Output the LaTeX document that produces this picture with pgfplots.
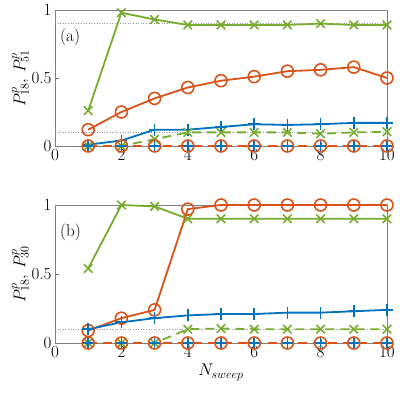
\documentclass[border=0pt]{standalone}
\usepackage{fix-cm}
\usepackage{pgfplots}
\pgfplotsset{compat=1.18}
\definecolor{mblue}{rgb}{0,0.447,0.741}
\definecolor{morange}{rgb}{0.851,0.325,0.098}
\definecolor{mgreen}{rgb}{0.466,0.674,0.188}
\pgfplotsset{
  panel/.style={
    scale only axis, width=332pt,
    xmin=0, xmax=10, ymin=0, ymax=1,
    xtick={0,2,...,10}, ytick={0,0.5,1},
    yticklabels={0,0.5,1},
    axis line style={black!50, line width=0.6pt},
    tick style={black!60},
    tick align=inside, major tick length=4pt,
    xtick pos=bottom, ytick pos=left,
    tick label style={font=\fontsize{17}{19}\selectfont},
    label style={font=\fontsize{17}{19}\selectfont},
    clip=false,
  },
  sol/.style={line width=1.8pt, mark size=6pt, mark options={solid, line width=1.6pt}},
  das/.style={line width=1.8pt, dash pattern=on 9pt off 6pt, mark size=6pt, mark options={solid, line width=1.6pt}},
  ref/.style={black!40, dotted, line width=0.6pt, forget plot},
}
\begin{document}
\begin{tikzpicture}
\begin{axis}[panel, height=136pt, at={(0pt,0pt)},
  ylabel={$P^p_{18},\,P^p_{51}$}, ylabel style={yshift=-4pt}]
\addplot[ref] coordinates {(0,0.9) (10,0.9)};
\addplot[ref] coordinates {(0,0.1) (10,0.1)};
\addplot[sol, mgreen, mark=x] coordinates {(1,0.26) (2,0.98) (3,0.93) (4,0.89) (5,0.89) (6,0.89) (7,0.89) (8,0.90) (9,0.89) (10,0.89)};
\addplot[sol, morange, mark=o] coordinates {(1,0.12) (2,0.25) (3,0.35) (4,0.43) (5,0.48) (6,0.51) (7,0.55) (8,0.56) (9,0.58) (10,0.50)};
\addplot[sol, mblue, mark=+] coordinates {(1,0.01) (2,0.04) (3,0.12) (4,0.12) (5,0.14) (6,0.16) (7,0.155) (8,0.16) (9,0.17) (10,0.17)};
\addplot[das, mgreen, mark=x] coordinates {(1,0) (2,0) (3,0.05) (4,0.10) (5,0.10) (6,0.10) (7,0.10) (8,0.09) (9,0.10) (10,0.105)};
\addplot[das, mblue, mark=+] coordinates {(1,0) (2,0) (3,0) (4,0) (5,0) (6,0) (7,0) (8,0) (9,0) (10,0)};
\addplot[das, morange, mark=o] coordinates {(1,0) (2,0) (3,0) (4,0) (5,0) (6,0) (7,0) (8,0) (9,0) (10,0)};
\node[anchor=west, font=\fontsize{17}{19}\selectfont] at (axis cs:0.05,0.8) {(a)};
\end{axis}
\begin{axis}[panel, height=138pt, at={(0pt,-197pt)},
  ylabel={$P^p_{18},\,P^p_{30}$}, ylabel style={yshift=-4pt},
  xlabel={$N_{sweep}$}]
\addplot[ref] coordinates {(0,0.1) (10,0.1)};
\addplot[sol, mgreen, mark=x] coordinates {(1,0.54) (2,1.0) (3,0.99) (4,0.90) (5,0.90) (6,0.90) (7,0.90) (8,0.90) (9,0.90) (10,0.90)};
\addplot[sol, morange, mark=o] coordinates {(1,0.09) (2,0.18) (3,0.24) (4,0.97) (5,1.0) (6,1.0) (7,1.0) (8,1.0) (9,1.0) (10,1.0)};
\addplot[sol, mblue, mark=+] coordinates {(1,0.10) (2,0.15) (3,0.18) (4,0.20) (5,0.21) (6,0.21) (7,0.22) (8,0.22) (9,0.23) (10,0.24)};
\addplot[das, mgreen, mark=x] coordinates {(1,0) (2,0) (3,0) (4,0.10) (5,0.105) (6,0.10) (7,0.10) (8,0.10) (9,0.10) (10,0.10)};
\addplot[das, mblue, mark=+] coordinates {(1,0) (2,0) (3,0) (4,0) (5,0) (6,0) (7,0) (8,0) (9,0) (10,0)};
\addplot[das, morange, mark=o] coordinates {(1,0) (2,0) (3,0) (4,0) (5,0) (6,0) (7,0) (8,0) (9,0) (10,0)};
\node[anchor=west, font=\fontsize{17}{19}\selectfont] at (axis cs:0.05,0.8) {(b)};
\end{axis}
\path (-55pt,-249pt) rectangle (360pt,146pt);
\end{tikzpicture}
\end{document}
